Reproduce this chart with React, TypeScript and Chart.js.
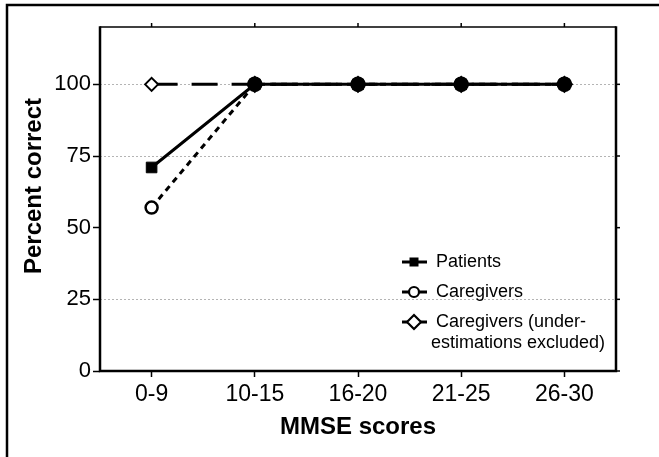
import React, { useEffect, useRef } from 'react';
import { Chart, registerables } from 'chart.js';

Chart.register(...registerables);

const categories = ['0-9', '10-15', '16-20', '21-25', '26-30'];
const patients = [71, 100, 100, 100, 100];
const caregivers = [57, 100, 100, 100, 100];
const caregiversExcl = [100, 100, 100, 100, 100];
const yTicks = [0, 25, 50, 75, 100];
const gridValues = [25, 75, 100];
const legendLabels = ['Patients', 'Caregivers', 'Caregivers (under-\nestimations excluded)'];
const xTitle = 'MMSE scores';
const yTitle = 'Percent correct';

const FONT = '"Liberation Sans", Arial, sans-serif';

const framePlugin = {
  id: 'frame',
  beforeDatasetsDraw(chart: any) {
    const { ctx, chartArea: a, scales } = chart;
    ctx.save();
    ctx.strokeStyle = '#000';
    ctx.setLineDash([]);
    // outer frame
    ctx.lineWidth = 2.5;
    ctx.beginPath();
    ctx.moveTo(7, chart.height + 5);
    ctx.lineTo(7, 5);
    ctx.lineTo(chart.width + 5, 5);
    ctx.stroke();
    // plot box top (thin)
    ctx.lineWidth = 1.5;
    ctx.beginPath();
    ctx.moveTo(a.left, a.top);
    ctx.lineTo(a.right, a.top);
    ctx.stroke();
    // top ticks
    categories.forEach((_, i) => {
      const x = scales.x.getPixelForValue(i);
      ctx.beginPath();
      ctx.moveTo(x, a.top);
      ctx.lineTo(x, a.top - 4);
      ctx.stroke();
    });
    // right ticks
    yTicks.forEach((v) => {
      const y = scales.y.getPixelForValue(v);
      ctx.beginPath();
      ctx.moveTo(a.right, y);
      ctx.lineTo(a.right + 4, y);
      ctx.stroke();
    });
    // left, bottom, right
    ctx.lineWidth = 2.5;
    ctx.beginPath();
    ctx.moveTo(a.left, a.top - 0.75);
    ctx.lineTo(a.left, a.bottom);
    ctx.lineTo(a.right, a.bottom);
    ctx.lineTo(a.right, a.top - 0.75);
    ctx.stroke();
    ctx.restore();
  },
  afterDraw(chart: any) {
    const { ctx, chartArea: a } = chart;
    ctx.save();
    // axis titles
    ctx.fillStyle = '#000';
    ctx.font = `bold 24px ${FONT}`;
    ctx.textAlign = 'center';
    ctx.textBaseline = 'alphabetic';
    ctx.fillText(xTitle, (a.left + a.right) / 2, 434);
    ctx.save();
    ctx.translate(34, 186);
    ctx.rotate(-Math.PI / 2);
    ctx.textBaseline = 'middle';
    ctx.fillText(yTitle, 0, 0);
    ctx.restore();

    // legend
    const rows = [a.bottom - 109, a.bottom - 79, a.bottom - 49];
    const x1 = a.right - 214;
    const x2 = a.right - 189;
    const mx = a.right - 202;
    const tx = a.right - 180;
    ctx.font = `18px ${FONT}`;
    ctx.textAlign = 'left';
    ctx.textBaseline = 'middle';
    legendLabels.forEach((label, i) => {
      const y = rows[i];
      ctx.strokeStyle = '#000';
      ctx.lineWidth = 3;
      ctx.setLineDash([]);
      ctx.beginPath();
      ctx.moveTo(x1, y);
      ctx.lineTo(x2, y);
      ctx.stroke();
      ctx.lineWidth = 2.2;
      if (i === 0) {
        ctx.fillStyle = '#000';
        ctx.fillRect(mx - 4.5, y - 4.5, 9, 9);
      } else if (i === 1) {
        ctx.fillStyle = '#fff';
        ctx.beginPath();
        ctx.arc(mx, y, 5, 0, Math.PI * 2);
        ctx.fill();
        ctx.stroke();
      } else {
        ctx.fillStyle = '#fff';
        ctx.beginPath();
        ctx.moveTo(mx - 7, y);
        ctx.lineTo(mx, y - 7);
        ctx.lineTo(mx + 7, y);
        ctx.lineTo(mx, y + 7);
        ctx.closePath();
        ctx.fill();
        ctx.stroke();
      }
      ctx.fillStyle = '#000';
      const lines = label.split('\n');
      lines.forEach((ln, j) => {
        ctx.fillText(ln, j === 0 ? tx : tx - 5, y + j * 21.5);
      });
    });
    ctx.restore();
  },
};

export default function App() {
  const ref = useRef<HTMLCanvasElement>(null);
  useEffect(() => {
    if (!ref.current) return;
    Chart.defaults.font.family = FONT;
    const fillFirstWhite = (c: any) => (c.dataIndex === 0 ? '#fff' : '#000');
    const chart = new Chart(ref.current, {
      type: 'line',
      data: {
        labels: categories,
        datasets: [
          {
            label: legendLabels[0],
            data: patients,
            borderColor: '#000',
            backgroundColor: '#000',
            borderWidth: 3,
            pointStyle: 'rect',
            pointRadius: 7.5,
            pointBorderWidth: 1,
            pointBackgroundColor: '#000',
            pointBorderColor: '#000',
          },
          {
            label: legendLabels[1],
            data: caregivers,
            borderColor: '#000',
            borderWidth: 3,
            borderDash: [6, 5],
            pointStyle: 'circle',
            pointRadius: (c: any) => (c.dataIndex === 0 ? 6 : 6.5),
            pointBorderWidth: 2.5,
            pointBackgroundColor: fillFirstWhite,
            pointBorderColor: '#000',
          },
          {
            label: legendLabels[2],
            data: caregiversExcl,
            borderColor: '#000',
            borderWidth: 3,
            borderDash: [26, 14],
            pointStyle: 'rectRot',
            pointRadius: (c: any) => (c.dataIndex === 0 ? 6.5 : 7.5),
            pointBorderWidth: 2,
            pointBackgroundColor: fillFirstWhite,
            pointBorderColor: '#000',
          },
        ],
      },
      options: {
        responsive: false,
        animation: false,
        layout: { padding: { left: 0, right: 43, top: 27, bottom: 0 } },
        plugins: { legend: { display: false }, tooltip: { enabled: false } },
        scales: {
          x: {
            type: 'category',
            offset: true,
            afterFit: (s: any) => {
              s.height = 86;
            },
            grid: {
              drawOnChartArea: false,
              tickLength: 6,
              tickColor: '#000',
              tickWidth: 1.5,
            },
            border: { display: false },
            ticks: { color: '#000', font: { size: 23 }, padding: 4, maxRotation: 0 },
          },
          y: {
            min: 0,
            max: 120,
            afterFit: (s: any) => {
              s.width = 100;
            },
            afterBuildTicks: (s: any) => {
              s.ticks = yTicks.map((v) => ({ value: v }));
            },
            grid: {
              color: (c: any) =>
                c.tick && gridValues.includes(c.tick.value) ? '#b4b4b4' : 'rgba(0,0,0,0)',
              lineWidth: 1,
              tickLength: 7,
              tickColor: '#000',
              tickWidth: 1.5,
            },
            border: { display: false, dash: [2, 2] },
            ticks: { color: '#000', font: { size: 22 }, padding: 2 },
          },
        },
      },
      plugins: [framePlugin],
    } as any);
    return () => chart.destroy();
  }, []);
  return (
    <div style={{ position: 'absolute', left: 0, top: 0, width: 659, height: 457, background: '#fff' }}>
      <canvas ref={ref} width={659} height={457} />
    </div>
  );
}
